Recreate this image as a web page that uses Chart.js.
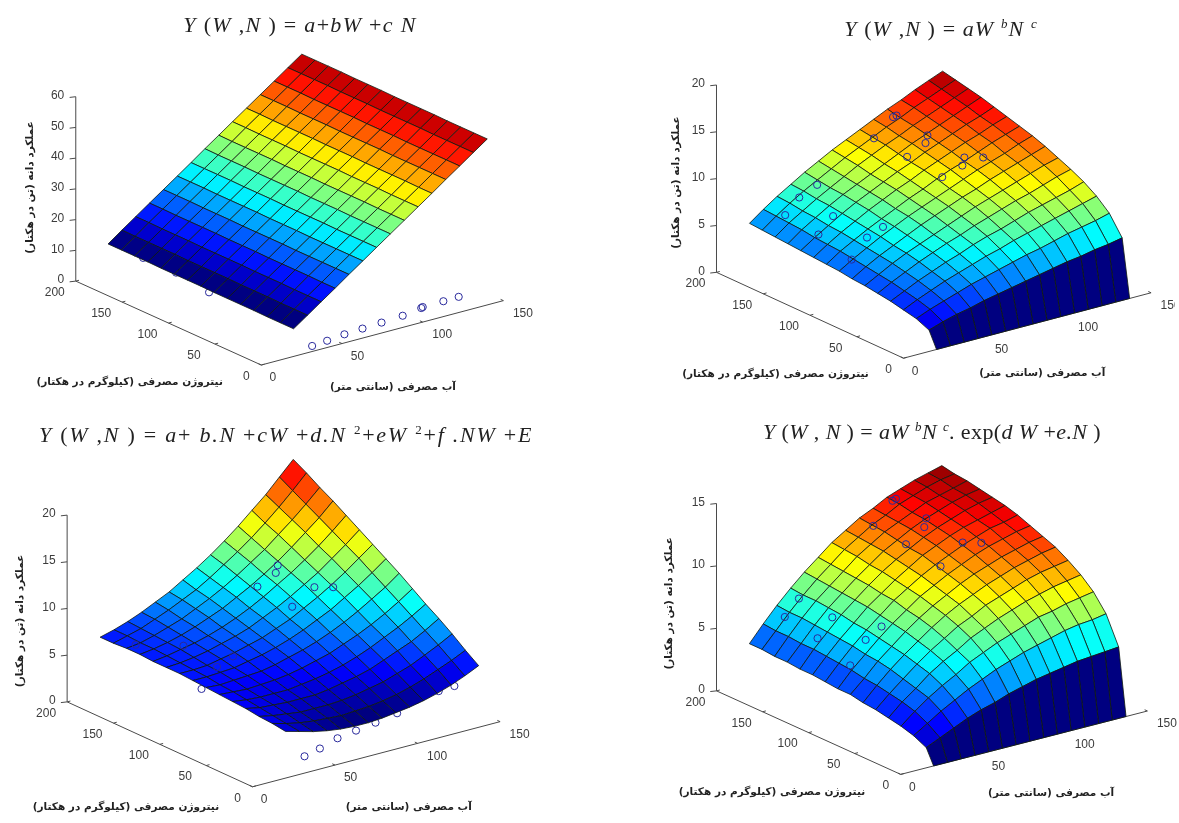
<!DOCTYPE html>
<html>
<head>
<meta charset="utf-8">
<style>
  html, body { margin: 0; padding: 0; background: #fff; overflow: hidden; }
  body { width: 1179px; height: 823px; position: relative; }
  canvas { position: absolute; filter: blur(0.5px); }
  .formula { position: absolute; transform: translateX(-50%); white-space: nowrap; color: #222; filter: blur(0.4px);
    font-family: "Liberation Serif", serif; font-size: 22px; line-height: 24px; }
  .formula sup { font-size: 13px; line-height: 0; }
</style>
<script src="https://cdn.jsdelivr.net/npm/chart.js@4"></script>
</head>
<body>
<div class="formula" style="left:300px;top:13px;letter-spacing:1.3px"><i>Y</i> (<i>W</i> ,<i>N</i> ) = <i>a</i>+<i>bW</i> +<i>c N</i></div>
<div class="formula" style="left:941px;top:17px;letter-spacing:1.1px"><i>Y</i> (<i>W</i> ,<i>N</i> ) = <i>aW</i> <sup><i>b</i></sup><i>N</i> <sup><i>c</i></sup></div>
<div class="formula" style="left:286px;top:423px;letter-spacing:1.75px"><i>Y</i> (<i>W</i> ,<i>N</i> ) = <i>a</i>+ <i>b.N</i> +<i>cW</i> +<i>d.N</i> <sup>2</sup>+<i>eW</i> <sup>2</sup>+<i>f .NW</i> +<i>E</i></div>
<div class="formula" style="left:932px;top:420px;letter-spacing:0.4px"><i>Y</i> (<i>W</i> , <i>N</i> ) = <i>aW</i> <sup><i>b</i></sup><i>N</i> <sup><i>c</i></sup>. exp(<i>d W</i> +<i>e.N</i> )</div>
<canvas id="c1" width="590" height="411" style="left:0;top:0"></canvas>
<canvas id="c2" width="585" height="411" style="left:590px;top:0"></canvas>
<canvas id="c3" width="590" height="412" style="left:0;top:411px"></canvas>
<canvas id="c4" width="589" height="412" style="left:590px;top:411px"></canvas>
<script>
// surface grids
const waterWide = [20, 28.6, 37.1, 45.7, 54.3, 62.9, 71.4, 80, 88.6, 97.1, 105.7, 114.3, 122.9, 131.4, 140];
const waterShort = [20, 28.4, 36.7, 45.1, 53.4, 61.8, 70.1, 78.5, 86.9, 95.2, 103.6, 111.9, 120.3, 128.6, 137];
const nitrogenEven = [0, 14.3, 28.6, 42.9, 57.1, 71.4, 85.7, 100, 114.3, 128.6, 142.9, 157.1, 171.4, 185.7, 200];
const nitrogenSkewed = [0, 8, 21.7, 35.4, 49.1, 62.9, 76.6, 90.3, 104, 117.7, 131.4, 145.1, 158.9, 172.6, 186.3, 200];

// one row per nitrogen level, one column per water level
const yieldLinear = [
  [9.0, 12.2, 15.4, 18.6, 21.9, 25.1, 28.3, 31.5, 34.7, 37.9, 41.1, 44.4, 47.6, 50.8, 54.0],
  [9.0, 12.2, 15.4, 18.6, 21.9, 25.1, 28.3, 31.5, 34.7, 37.9, 41.1, 44.4, 47.6, 50.8, 54.0],
  [9.0, 12.2, 15.4, 18.7, 21.9, 25.1, 28.3, 31.5, 34.7, 37.9, 41.2, 44.4, 47.6, 50.8, 54.0],
  [9.1, 12.3, 15.5, 18.7, 21.9, 25.1, 28.3, 31.5, 34.8, 38.0, 41.2, 44.4, 47.6, 50.8, 54.0],
  [9.1, 12.3, 15.5, 18.7, 21.9, 25.1, 28.4, 31.6, 34.8, 38.0, 41.2, 44.4, 47.6, 50.9, 54.1],
  [9.1, 12.3, 15.5, 18.7, 22.0, 25.2, 28.4, 31.6, 34.8, 38.0, 41.2, 44.5, 47.7, 50.9, 54.1],
  [9.1, 12.4, 15.6, 18.8, 22.0, 25.2, 28.4, 31.6, 34.8, 38.1, 41.3, 44.5, 47.7, 50.9, 54.1],
  [9.2, 12.4, 15.6, 18.8, 22.0, 25.2, 28.4, 31.7, 34.9, 38.1, 41.3, 44.5, 47.7, 50.9, 54.1],
  [9.2, 12.4, 15.6, 18.8, 22.0, 25.3, 28.5, 31.7, 34.9, 38.1, 41.3, 44.5, 47.8, 51.0, 54.2],
  [9.2, 12.4, 15.6, 18.9, 22.1, 25.3, 28.5, 31.7, 34.9, 38.1, 41.4, 44.6, 47.8, 51.0, 54.2],
  [9.2, 12.5, 15.7, 18.9, 22.1, 25.3, 28.5, 31.7, 35.0, 38.2, 41.4, 44.6, 47.8, 51.0, 54.2],
  [9.3, 12.5, 15.7, 18.9, 22.1, 25.3, 28.6, 31.8, 35.0, 38.2, 41.4, 44.6, 47.8, 51.1, 54.3],
  [9.3, 12.5, 15.7, 18.9, 22.2, 25.4, 28.6, 31.8, 35.0, 38.2, 41.4, 44.7, 47.9, 51.1, 54.3],
  [9.3, 12.5, 15.8, 19.0, 22.2, 25.4, 28.6, 31.8, 35.0, 38.3, 41.5, 44.7, 47.9, 51.1, 54.3],
  [9.3, 12.6, 15.8, 19.0, 22.2, 25.4, 28.6, 31.9, 35.1, 38.3, 41.5, 44.7, 47.9, 51.1, 54.3]
];
const yieldPower = [
  [0, 0, 0, 0, 0, 0, 0, 0, 0, 0, 0, 0, 0, 0, 0],
  [1.7, 2.2, 2.6, 2.9, 3.3, 3.6, 3.9, 4.2, 4.5, 4.8, 5.1, 5.3, 5.6, 5.8, 6.1],
  [2.3, 2.9, 3.4, 3.9, 4.4, 4.8, 5.2, 5.6, 6.0, 6.3, 6.7, 7.1, 7.4, 7.7, 8.1],
  [2.6, 3.3, 3.9, 4.5, 5.0, 5.5, 6.0, 6.4, 6.9, 7.3, 7.7, 8.1, 8.5, 8.9, 9.3],
  [2.9, 3.6, 4.3, 4.9, 5.5, 6.0, 6.6, 7.1, 7.5, 8.0, 8.5, 8.9, 9.3, 9.7, 10.2],
  [3.1, 3.9, 4.6, 5.3, 5.9, 6.5, 7.0, 7.6, 8.1, 8.6, 9.1, 9.5, 10.0, 10.5, 10.9],
  [3.3, 4.1, 4.9, 5.6, 6.2, 6.8, 7.4, 8.0, 8.6, 9.1, 9.6, 10.1, 10.6, 11.1, 11.5],
  [3.4, 4.3, 5.1, 5.8, 6.5, 7.2, 7.8, 8.4, 9.0, 9.5, 10.1, 10.6, 11.1, 11.6, 12.1],
  [3.6, 4.5, 5.3, 6.1, 6.8, 7.5, 8.1, 8.7, 9.3, 9.9, 10.5, 11.0, 11.5, 12.1, 12.6],
  [3.7, 4.7, 5.5, 6.3, 7.0, 7.7, 8.4, 9.0, 9.7, 10.3, 10.8, 11.4, 12.0, 12.5, 13.0],
  [3.8, 4.8, 5.7, 6.5, 7.3, 8.0, 8.7, 9.3, 10.0, 10.6, 11.2, 11.8, 12.3, 12.9, 13.4],
  [3.9, 4.9, 5.8, 6.7, 7.5, 8.2, 8.9, 9.6, 10.2, 10.9, 11.5, 12.1, 12.7, 13.2, 13.8],
  [4.0, 5.1, 6.0, 6.9, 7.7, 8.4, 9.1, 9.8, 10.5, 11.2, 11.8, 12.4, 13.0, 13.6, 14.2],
  [4.1, 5.2, 6.1, 7.0, 7.8, 8.6, 9.4, 10.1, 10.8, 11.4, 12.1, 12.7, 13.3, 13.9, 14.5],
  [4.2, 5.3, 6.3, 7.2, 8.0, 8.8, 9.6, 10.3, 11.0, 11.7, 12.3, 13.0, 13.6, 14.2, 14.8],
  [4.3, 5.4, 6.4, 7.3, 8.2, 9.0, 9.8, 10.5, 11.2, 11.9, 12.6, 13.2, 13.9, 14.5, 15.1]
];
const yieldQuadratic = [
  [5.0, 4.6, 4.2, 3.9, 3.7, 3.6, 3.6, 3.7, 3.9, 4.1, 4.4, 4.8, 5.3, 5.9, 6.6],
  [5.2, 4.8, 4.5, 4.3, 4.2, 4.1, 4.2, 4.3, 4.5, 4.8, 5.2, 5.7, 6.3, 6.9, 7.6],
  [5.3, 5.0, 4.8, 4.6, 4.6, 4.6, 4.7, 4.9, 5.2, 5.5, 6.0, 6.5, 7.2, 7.9, 8.7],
  [5.5, 5.2, 5.1, 5.0, 5.0, 5.0, 5.2, 5.5, 5.8, 6.2, 6.8, 7.4, 8.0, 8.8, 9.7],
  [5.6, 5.4, 5.3, 5.3, 5.3, 5.5, 5.7, 6.0, 6.4, 6.9, 7.5, 8.2, 8.9, 9.7, 10.6],
  [5.7, 5.6, 5.5, 5.6, 5.7, 5.9, 6.2, 6.6, 7.0, 7.6, 8.2, 8.9, 9.7, 10.6, 11.6],
  [5.8, 5.7, 5.8, 5.9, 6.0, 6.3, 6.7, 7.1, 7.6, 8.2, 8.9, 9.7, 10.6, 11.5, 12.6],
  [5.9, 5.9, 6.0, 6.1, 6.4, 6.7, 7.1, 7.6, 8.2, 8.9, 9.6, 10.5, 11.4, 12.4, 13.5],
  [6.0, 6.0, 6.1, 6.4, 6.7, 7.1, 7.5, 8.1, 8.7, 9.5, 10.3, 11.2, 12.2, 13.3, 14.4],
  [6.0, 6.1, 6.3, 6.6, 7.0, 7.4, 7.9, 8.6, 9.3, 10.1, 11.0, 11.9, 13.0, 14.1, 15.3],
  [6.0, 6.2, 6.5, 6.8, 7.2, 7.7, 8.3, 9.0, 9.8, 10.7, 11.6, 12.6, 13.7, 14.9, 16.2],
  [6.1, 6.3, 6.6, 7.0, 7.5, 8.1, 8.7, 9.5, 10.3, 11.2, 12.2, 13.3, 14.5, 15.7, 17.1],
  [6.1, 6.3, 6.7, 7.2, 7.7, 8.4, 9.1, 9.9, 10.8, 11.8, 12.8, 14.0, 15.2, 16.5, 17.9],
  [6.0, 6.4, 6.8, 7.4, 8.0, 8.7, 9.4, 10.3, 11.3, 12.3, 13.4, 14.6, 15.9, 17.3, 18.8],
  [6.0, 6.4, 6.9, 7.5, 8.2, 8.9, 9.8, 10.7, 11.7, 12.8, 14.0, 15.3, 16.6, 18.1, 19.6]
];
const yieldExponential = [
  [0, 0, 0, 0, 0, 0, 0, 0, 0, 0, 0, 0, 0, 0, 0],
  [1.2, 1.7, 2.2, 2.7, 3.1, 3.4, 3.8, 4.1, 4.4, 4.6, 4.8, 5.0, 5.1, 5.2, 5.3],
  [1.7, 2.4, 3.1, 3.7, 4.3, 4.8, 5.3, 5.7, 6.1, 6.4, 6.7, 7.0, 7.2, 7.3, 7.5],
  [2.0, 2.9, 3.7, 4.4, 5.0, 5.7, 6.2, 6.7, 7.1, 7.5, 7.9, 8.1, 8.4, 8.6, 8.8],
  [2.2, 3.2, 4.0, 4.9, 5.6, 6.2, 6.9, 7.4, 7.9, 8.3, 8.7, 9.0, 9.3, 9.5, 9.7],
  [2.4, 3.4, 4.3, 5.2, 6.0, 6.7, 7.4, 7.9, 8.5, 8.9, 9.3, 9.7, 10.0, 10.2, 10.4],
  [2.5, 3.6, 4.6, 5.5, 6.3, 7.1, 7.8, 8.4, 8.9, 9.4, 9.8, 10.2, 10.5, 10.8, 11.0],
  [2.7, 3.7, 4.8, 5.7, 6.6, 7.4, 8.1, 8.7, 9.3, 9.8, 10.2, 10.6, 10.9, 11.2, 11.4],
  [2.7, 3.9, 4.9, 5.9, 6.8, 7.6, 8.4, 9.0, 9.6, 10.1, 10.6, 11.0, 11.3, 11.6, 11.8],
  [2.8, 4.0, 5.1, 6.1, 7.0, 7.9, 8.6, 9.3, 9.9, 10.4, 10.9, 11.3, 11.7, 11.9, 12.2],
  [2.9, 4.1, 5.2, 6.2, 7.2, 8.0, 8.8, 9.5, 10.2, 10.7, 11.2, 11.6, 11.9, 12.2, 12.5],
  [2.9, 4.2, 5.3, 6.4, 7.3, 8.2, 9.0, 9.7, 10.3, 10.9, 11.4, 11.8, 12.2, 12.5, 12.7],
  [3.0, 4.2, 5.4, 6.5, 7.4, 8.3, 9.1, 9.9, 10.5, 11.1, 11.6, 12.0, 12.4, 12.7, 12.9],
  [3.0, 4.3, 5.5, 6.6, 7.5, 8.4, 9.3, 10.0, 10.7, 11.2, 11.7, 12.2, 12.5, 12.8, 13.1],
  [3.1, 4.3, 5.5, 6.6, 7.6, 8.5, 9.4, 10.1, 10.8, 11.3, 11.9, 12.3, 12.7, 13.0, 13.2],
  [3.1, 4.4, 5.6, 6.7, 7.7, 8.6, 9.5, 10.2, 10.9, 11.4, 12.0, 12.4, 12.8, 13.1, 13.4]
];

// measured field points, the little blue circles
const pointWater = [31.5, 40.8, 51.5, 62.7, 74.5, 87.6, 99.1, 100, 112.8, 122.3, 107, 108, 104, 100, 92, 90, 106, 111, 114, 92, 61, 49, 32, 48, 47, 34, 55, 32];
const pointNitrogen = [0, 0, 0, 0, 0, 0, 0, 0, 0, 0, 200, 198, 158, 153, 194, 155, 122, 133, 116, 121, 200, 198, 183, 160, 122, 151, 119, 112];
const pointYield = [1.8, 2.2, 2.8, 3.1, 3.4, 3.8, 4.7, 4.9, 5.0, 5.1, 11.6, 11.8, 11.7, 11.3, 10.3, 10.2, 10.9, 9.3, 10.8, 9.5, 6.5, 5.8, 5.4, 5.6, 5.1, 4.7, 6.0, 3.9];

const waterTicks = [0, 50, 100, 150];
const nitrogenTicks = [0, 50, 100, 150, 200];
const yieldTicksBig = [0, 10, 20, 30, 40, 50, 60];
const yieldTicksMid = [0, 5, 10, 15, 20];
const yieldTicksSmall = [0, 5, 10, 15];

const yieldLabel = 'عملکرد دانه (تن در هکتار)';
const nitrogenLabel = 'نیتروژن مصرفی (کیلوگرم در هکتار)';
const waterLabel = 'آب مصرفی (سانتی متر)';

// each panel: the projection of the 3d box on the page and where its labels sit
const panels = [
  { id: 'c1', left: 0, top: 0, water: waterWide, nitrogen: nitrogenEven, table: yieldLinear, zTicks: yieldTicksBig, slack: 0,
    view: { ox: 260.7, oy: 369, wx: 1.642, wy: -0.44, nx: -0.9435, ny: -0.43, zy: -3.15 },
    yPos: [25.7, 187], nPos: [126.8, 387], wPos: [394.6, 392] },
  { id: 'c2', left: 590, top: 0, water: waterShort, nitrogen: nitrogenSkewed, table: yieldPower, zTicks: yieldTicksMid, slack: 2.5,
    view: { ox: 903.9, oy: 362, wx: 1.679, wy: -0.447, nx: -0.9515, ny: -0.44, zy: -9.6 },
    yPos: [672.9, 182], nPos: [773.6, 378], wPos: [1045, 377] },
  { id: 'c3', left: 0, top: 411, water: waterShort, nitrogen: nitrogenEven, table: yieldQuadratic, zTicks: yieldTicksMid, slack: 1.5,
    view: { ox: 251.8, oy: 791, wx: 1.679, wy: -0.445, nx: -0.943, ny: -0.435, zy: -9.57 },
    yPos: [16, 621], nPos: [123, 812], wPos: [410.7, 812] },
  { id: 'c4', left: 590, top: 411, water: waterShort, nitrogen: nitrogenSkewed, table: yieldExponential, zTicks: yieldTicksSmall, slack: 1.6,
    view: { ox: 901, oy: 778.3, wx: 1.673, wy: -0.433, nx: -0.937, ny: -0.428, zy: -12.8 },
    yPos: [665.7, 603], nPos: [770, 797], wPos: [1054, 798] }
];

function project(view, w, n, z) {
  return { x: view.ox + w * view.wx + n * view.nx, y: view.oy + w * view.wy + n * view.ny + z * view.zy };
}

// matlab jet
function jet(t) {
  const ramp = (c) => Math.max(0, Math.min(1, 1.5 - Math.abs(4 * t - c)));
  return `rgb(${Math.round(255 * ramp(3))},${Math.round(255 * ramp(2))},${Math.round(255 * ramp(1))})`;
}

function lineSet(points, color) {
  return { type: 'scatter', data: points, showLine: true, borderColor: color, borderWidth: 1, pointRadius: 0, fill: false };
}

function markerSet(points) {
  return { type: 'scatter', data: points, showLine: false, pointRadius: 3.6, pointStyle: 'circle',
    pointBorderColor: '#2a2a9c', pointBorderWidth: 1, pointBackgroundColor: 'rgba(0,0,0,0)' };
}

function buildDatasets(p) {
  const { view, water, nitrogen, table } = p;
  const flat = table.flat();
  const lo = Math.min(...flat);
  const hi = Math.max(...flat);
  const over = [];
  const under = [];
  pointWater.forEach((w, k) => {
    const n = pointNitrogen[k];
    const z = pointYield[k];
    const iw = water.reduce((b, v, i) => (Math.abs(v - w) < Math.abs(water[b] - w) ? i : b), 0);
    const jn = nitrogen.reduce((b, v, j) => (Math.abs(v - n) < Math.abs(nitrogen[b] - n) ? j : b), 0);
    // the zero nitrogen plots always sit behind the first row of the surface
    const visible = n > 0 && z + p.slack >= table[jn][iw];
    (visible ? over : under).push(project(view, w, n, z));
  });

  // first dataset ends up on top, so go from the near corner to the far one
  const sets = [markerSet(over)];
  for (let j = 0; j < nitrogen.length - 1; j++) {
    for (let i = 0; i < water.length - 1; i++) {
      const corners = [
        project(view, water[i], nitrogen[j], table[j][i]),
        project(view, water[i + 1], nitrogen[j], table[j][i + 1]),
        project(view, water[i + 1], nitrogen[j + 1], table[j + 1][i + 1]),
        project(view, water[i], nitrogen[j + 1], table[j + 1][i])
      ];
      corners.push(corners[0]);
      sets.push({
        type: 'scatter', data: corners, showLine: true, pointRadius: 0, tension: 0,
        fill: 'shape', backgroundColor: jet((table[j][i] - lo) / (hi - lo)),
        borderColor: 'rgba(15,25,15,0.8)', borderWidth: 1
      });
    }
  }
  sets.push(markerSet(under));

  const axisColor = '#4a4a4a';
  const wMax = waterTicks[waterTicks.length - 1];
  const nMax = nitrogenTicks[nitrogenTicks.length - 1];
  const zMax = p.zTicks[p.zTicks.length - 1];
  sets.push(lineSet([project(view, 0, 0, 0), project(view, wMax, 0, 0)], axisColor));
  sets.push(lineSet([project(view, 0, 0, 0), project(view, 0, nMax, 0)], axisColor));
  sets.push(lineSet([project(view, 0, nMax, 0), project(view, 0, nMax, zMax)], axisColor));
  waterTicks.forEach((w) => sets.push(lineSet([project(view, w, 0, 0), project(view, w, 3, 0)], axisColor)));
  nitrogenTicks.forEach((n) => sets.push(lineSet([project(view, 0, n, 0), project(view, 2, n, 0)], axisColor)));
  p.zTicks.forEach((z) => sets.push(lineSet([project(view, 0, nMax, z), project(view, -3, nMax + 1.4, z)], axisColor)));
  return sets;
}

// tick numbers and the persian axis titles, placed through the chart scales
const boxLabels = {
  id: 'boxLabels',
  afterDraw(chart, args, opts) {
    const p = opts.panel;
    const { ctx, scales } = chart;
    const px = (x) => scales.x.getPixelForValue(x);
    const py = (y) => scales.y.getPixelForValue(y);
    const nMax = nitrogenTicks[nitrogenTicks.length - 1];
    ctx.save();
    ctx.fillStyle = '#3c3c3c';
    ctx.font = '12px "Liberation Sans", Arial, sans-serif';
    ctx.textBaseline = 'middle';
    ctx.textAlign = 'center';
    waterTicks.forEach((w) => {
      const at = project(p.view, w, 0, 0);
      ctx.fillText(String(w), px(at.x) + (w === 0 ? 11.5 : w === 50 ? 15.5 : 19.5), py(at.y) + 13);
    });
    nitrogenTicks.forEach((n) => {
      const at = project(p.view, 0, n, 0);
      ctx.fillText(String(n), px(at.x) + (n === 0 ? -15 : -21), py(at.y) + 11.5);
    });
    ctx.textAlign = 'right';
    p.zTicks.forEach((z) => {
      const at = project(p.view, 0, nMax, z);
      ctx.fillText(String(z), px(at.x) - 11.5, py(at.y) - 1);
    });
    ctx.fillStyle = '#222';
    ctx.textAlign = 'center';
    ctx.font = 'bold 10.5px "DejaVu Sans", sans-serif';
    ctx.direction = 'rtl';
    ctx.fillText(nitrogenLabel, px(p.nPos[0]), py(p.nPos[1]));
    ctx.fillText(waterLabel, px(p.wPos[0]), py(p.wPos[1]));
    ctx.translate(px(p.yPos[0]), py(p.yPos[1]));
    ctx.rotate(-Math.PI / 2);
    ctx.fillText(yieldLabel, 0, 0);
    ctx.restore();
  }
};

panels.forEach((p) => {
  const canvas = document.getElementById(p.id);
  new Chart(canvas.getContext('2d'), {
    type: 'scatter',
    data: { datasets: buildDatasets(p) },
    options: {
      responsive: false,
      animation: false,
      devicePixelRatio: 1,
      layout: { padding: 0 },
      scales: {
        x: { type: 'linear', display: false, min: p.left, max: p.left + canvas.width },
        y: { type: 'linear', display: false, reverse: true, min: p.top, max: p.top + canvas.height }
      },
      plugins: {
        legend: { display: false },
        tooltip: { enabled: false },
        boxLabels: { panel: p }
      }
    },
    plugins: [boxLabels]
  });
});
</script>
</body>
</html>
